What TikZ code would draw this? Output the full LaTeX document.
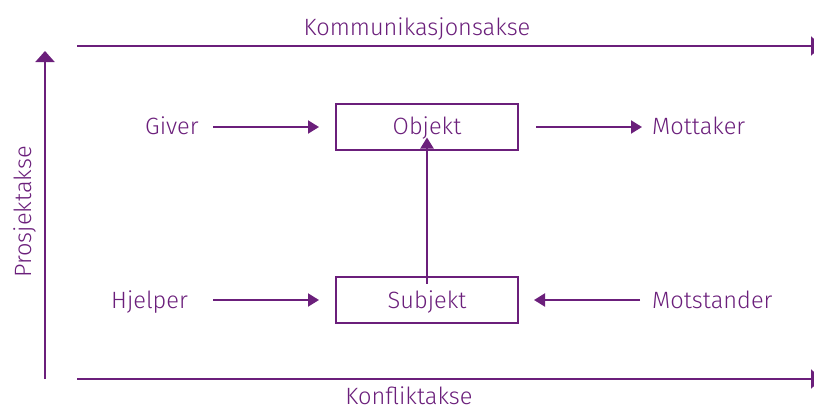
\documentclass[tikz,border=0pt]{standalone}
\usepackage{fontspec}
\setmainfont{Fira Sans}[UprightFont=* Light]
\usetikzlibrary{arrows.meta}
\definecolor{purp}{RGB}{107,31,123}
\begin{document}
\begin{tikzpicture}[x=1pt,y=-1pt,
  txt/.style={text=purp,font=\fontsize{23.6}{28}\selectfont,inner sep=0pt},
  box/.style={draw=purp,line width=2pt,minimum width=182pt,minimum height=46pt,inner sep=0pt},
  conn/.style={draw=purp,line width=2pt,-{Triangle[length=11pt,width=13pt]}},
  axis/.style={draw=purp,line width=2pt,-{Triangle[length=11pt,width=19pt]}}]
\useasboundingbox (0,0) rectangle (814,410);
% axes
\coordinate (ta0) at (77,46);
\coordinate (ta1) at (822,46);
\coordinate (ba0) at (77,379);
\coordinate (ba1) at (822,379);
\coordinate (va0) at (45,379);
\coordinate (va1) at (45,51);
\draw[axis] (ta0) -- (ta1);
\draw[axis] (ba0) -- (ba1);
\draw[axis] (va0) -- (va1);
\node[txt,anchor=base] (kom) at (417,35) {Kommunikasjonsakse};
\node[txt,anchor=base] (kon) at (409,404) {Konfliktakse};
\node[txt,rotate=90,anchor=base] (pro) at (31,212) {Prosjektakse};
% boxes
\node[box] (obj) at (427,126.5) {};
\node[box] (sub) at (427,299.5) {};
\node[txt,anchor=base] (objt) at (427,134) {Objekt};
\node[txt,anchor=base] (subt) at (427,308) {Subjekt};
% labels
\node[txt,anchor=base west] (giv) at (145,134) {Giver};
\node[txt,anchor=base west] (mot) at (652,134) {Mottaker};
\node[txt,anchor=base west] (hje) at (111,308) {Hjelper};
\node[txt,anchor=base west] (mst) at (652,308) {Motstander};
% arrow ends
\coordinate (g0) at (213,127);
\coordinate (g1) at (319,127);
\coordinate (m0) at (536,127);
\coordinate (m1) at (642,127);
\coordinate (h0) at (213,300);
\coordinate (h1) at (319,300);
\coordinate (s0) at (640,300);
\coordinate (s1) at (534,300);
\draw[conn] (g0) -- (g1);
\draw[conn] (m0) -- (m1);
\draw[conn] (h0) -- (h1);
\draw[conn] (s0) -- (s1);
\draw[conn] ([yshift=-8pt]sub.north) -- ([yshift=13pt]obj.south);
\end{tikzpicture}
\end{document}
